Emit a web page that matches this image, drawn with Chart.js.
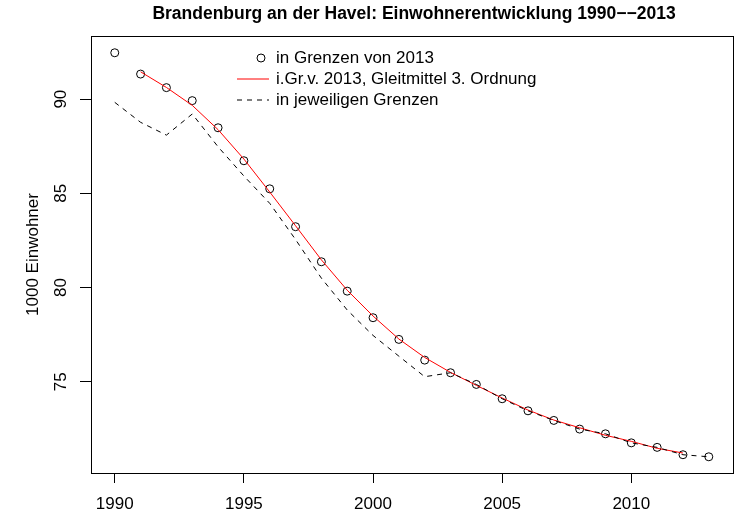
<!DOCTYPE html>
<html>
<head>
<meta charset="utf-8">
<script src="https://cdn.jsdelivr.net/npm/chart.js@4"></script>
<style>
  html, body { margin: 0; padding: 0; background: #fff; }
  #wrap { width: 736px; height: 515px; }
</style>
</head>
<body>
<div id="wrap"><canvas id="chart" width="736" height="515"></canvas></div>
<script>
// Data (1000 Einwohner)
const years = [1990, 1991, 1992, 1993, 1994, 1995, 1996, 1997, 1998, 1999, 2000, 2001,
  2002, 2003, 2004, 2005, 2006, 2007, 2008, 2009, 2010, 2011, 2012, 2013];
const inGrenzen2013 = [92.46, 91.33, 90.61, 89.92, 88.48, 86.73, 85.24, 83.23, 81.37, 79.81, 78.40, 77.25,
  76.15, 75.48, 74.86, 74.10, 73.46, 72.95, 72.49, 72.24, 71.76, 71.52, 71.13, 71.02];
const gleitYears = [1991, 1992, 1993, 1994, 1995, 1996, 1997, 1998, 1999, 2000, 2001,
  2002, 2003, 2004, 2005, 2006, 2007, 2008, 2009, 2010, 2011, 2012];
const gleitmittel = [91.45, 90.62, 89.67, 88.38, 86.82, 85.07, 83.28, 81.47, 79.86, 78.49, 77.27,
  76.29, 75.50, 74.81, 74.14, 73.50, 72.97, 72.56, 72.16, 71.84, 71.47, 71.22];
const jeweilig = [89.83, 88.77, 88.09, 89.21, 87.47, 85.92, 84.47, 82.55, 80.50, 78.81, 77.46, 76.36,
  75.27, 75.48, 74.86, 74.10, 73.46, 72.95, 72.49, 72.24, 71.76, 71.52, 71.13, 71.02];

const xTicks = [1990, 1995, 2000, 2005, 2010];
const yTicks = [75, 80, 85, 90];

const titleText = 'Brandenburg an der Havel: Einwohnerentwicklung 1990\u2212\u22122013';
const yTitle = '1000 Einwohner';
const legendLabels = ['in Grenzen von 2013', 'i.Gr.v. 2013, Gleitmittel 3. Ordnung', 'in jeweiligen Grenzen'];

const FONT = '"Liberation Sans", Arial, Helvetica, sans-serif';

const toXY = (xs, ys) => xs.map((x, i) => ({ x: x, y: ys[i] }));

// R-style decorations: box, rotated y labels, titles, legend
const rDecor = {
  id: 'rDecor',
  afterDraw(chart) {
    const ctx = chart.ctx;
    const a = chart.chartArea;
    const ys = chart.scales.y;
    ctx.save();
    ctx.strokeStyle = '#000';
    ctx.lineWidth = 1;
    ctx.strokeRect(Math.round(a.left) + 0.5, Math.round(a.top) + 0.5, a.right - a.left + 2, a.bottom - a.top);

    ctx.fillStyle = '#000';
    ctx.textAlign = 'center';
    ctx.textBaseline = 'middle';
    ctx.font = '17px ' + FONT;
    yTicks.forEach(v => {
      ctx.save();
      ctx.translate(61, ys.getPixelForValue(v));
      ctx.rotate(-Math.PI / 2);
      ctx.fillText(String(v), 0, 0);
      ctx.restore();
    });

    ctx.save();
    ctx.translate(33, (a.top + a.bottom) / 2);
    ctx.rotate(-Math.PI / 2);
    ctx.fillText(yTitle, 0, 0);
    ctx.restore();

    ctx.font = 'bold 17.5px ' + FONT;
    ctx.fillText(titleText, 414, 14);

    // legend
    const lx = 261, tx = 276, rows = [58, 79, 100];
    ctx.font = '17px ' + FONT;
    ctx.textAlign = 'left';
    ctx.beginPath();
    ctx.arc(lx, rows[0], 4, 0, Math.PI * 2);
    ctx.stroke();
    ctx.strokeStyle = '#FF0000';
    ctx.beginPath();
    ctx.moveTo(lx - 24, rows[1]);
    ctx.lineTo(lx + 8, rows[1]);
    ctx.stroke();
    ctx.strokeStyle = '#000';
    ctx.setLineDash([5, 5]);
    ctx.beginPath();
    ctx.moveTo(lx - 24, rows[2]);
    ctx.lineTo(lx + 8, rows[2]);
    ctx.stroke();
    ctx.setLineDash([]);
    legendLabels.forEach((t, i) => ctx.fillText(t, tx, rows[i]));
    ctx.restore();
  }
};

new Chart(document.getElementById('chart'), {
  type: 'line',
  data: {
    datasets: [
      {
        label: legendLabels[2],
        data: toXY(years, jeweilig),
        borderColor: '#000',
        borderWidth: 1,
        borderDash: [5, 5],
        pointRadius: 0,
        fill: false,
        tension: 0
      },
      {
        label: legendLabels[1],
        data: toXY(gleitYears, gleitmittel),
        borderColor: '#FF0000',
        borderWidth: 1,
        pointRadius: 0,
        fill: false,
        tension: 0
      },
      {
        label: legendLabels[0],
        data: toXY(years, inGrenzen2013),
        showLine: false,
        pointStyle: 'circle',
        pointRadius: 4,
        pointBorderWidth: 1,
        pointBorderColor: '#000',
        pointBackgroundColor: 'rgba(0,0,0,0)'
      }
    ]
  },
  options: {
    responsive: false,
    animation: false,
    devicePixelRatio: 1,
    layout: { padding: { left: 0, right: 0, top: 36, bottom: 0 } },
    plugins: {
      legend: { display: false },
      title: { display: false },
      tooltip: { enabled: false }
    },
    scales: {
      x: {
        type: 'linear',
        min: 1989.08,
        max: 2013.86,
        afterBuildTicks: s => { s.ticks = xTicks.map(v => ({ value: v })); },
        afterFit: s => { s.height = 42; },
        border: { display: false },
        grid: { drawOnChartArea: false, drawTicks: true, tickLength: 10, color: '#000' },
        ticks: { color: '#000', font: { size: 17, family: FONT }, padding: 11, maxRotation: 0, callback: v => String(v) }
      },
      y: {
        type: 'linear',
        min: 70.16,
        max: 93.35,
        afterBuildTicks: s => { s.ticks = yTicks.map(v => ({ value: v })); },
        afterFit: s => { s.width = 91; },
        border: { display: false },
        grid: { drawOnChartArea: false, drawTicks: true, tickLength: 11, color: '#000' },
        ticks: { display: false }
      }
    }
  },
  plugins: [rDecor]
});
</script>
</body>
</html>
